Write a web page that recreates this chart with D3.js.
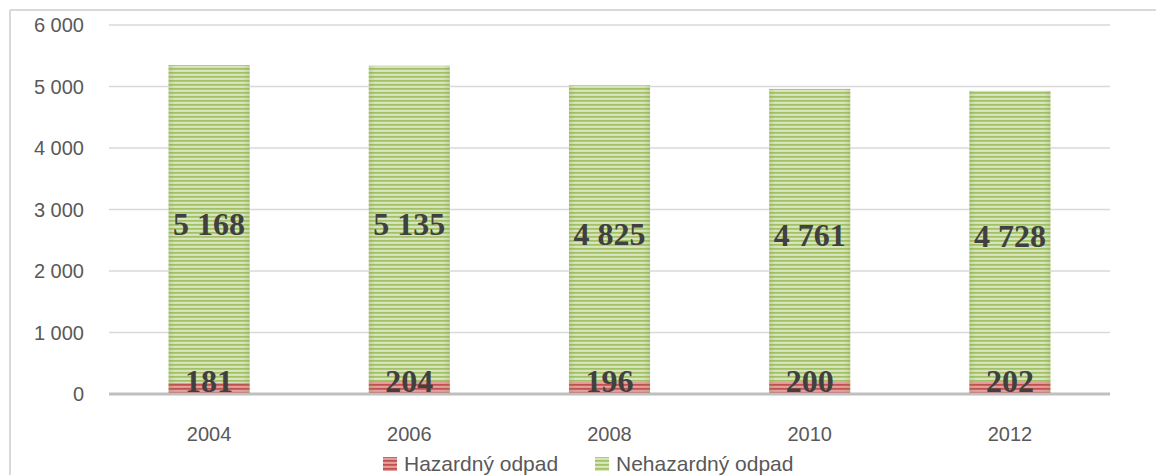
<!DOCTYPE html>
<html>
<head>
<meta charset="utf-8">
<script src="https://cdn.jsdelivr.net/npm/d3@7"></script>
<style>
  body { margin: 0; background: #fff; }
  svg { display: block; font-family: "Liberation Sans", Arial, sans-serif; }
</style>
</head>
<body>
<svg id="chart" width="1156" height="475"></svg>
<script>
var years = ["2004", "2006", "2008", "2010", "2012"];
var hazard = [181, 204, 196, 200, 202];
var nonHazard = [5168, 5135, 4825, 4761, 4728];
var yTicks = [0, 1000, 2000, 3000, 4000, 5000, 6000];
var seriesNames = ["Hazardný odpad", "Nehazardný odpad"];

var width = 1156, height = 475;
var plotLeft = 109, plotRight = 1110, plotTop = 25, plotBottom = 394;

var svg = d3.select("#chart");
var fmt = d3.formatLocale({decimal: ",", thousands: " ", grouping: [3], currency: ["", ""]}).format(",d");

// striped fills
var defs = svg.append("defs");
var makeStripes = function(id, dark, mid, light){
	var p = defs.append("pattern")
		.attr("id", id)
		.attr("patternUnits", "userSpaceOnUse")
		.attr("width", 8).attr("height", 4);
	p.append("rect").attr("width", 8).attr("height", 4).attr("fill", mid);
	p.append("rect").attr("y", 0).attr("width", 8).attr("height", 1.5).attr("fill", dark);
	p.append("rect").attr("y", 2.3).attr("width", 8).attr("height", 1.3).attr("fill", light);
};
makeStripes("greenStripe", "#a2c064", "#bfd597", "#e3edd2");
makeStripes("redStripe", "#c0504d", "#d27774", "#eab2b0");

var edge = defs.append("linearGradient").attr("id", "edge");
edge.append("stop").attr("offset", "0").attr("stop-color", "#7a9a3c").attr("stop-opacity", 0.22);
edge.append("stop").attr("offset", "0.08").attr("stop-color", "#7a9a3c").attr("stop-opacity", 0);
edge.append("stop").attr("offset", "0.92").attr("stop-color", "#7a9a3c").attr("stop-opacity", 0);
edge.append("stop").attr("offset", "1").attr("stop-color", "#7a9a3c").attr("stop-opacity", 0.22);

// outer frame (only top and left visible)
svg.append("line").attr("x1", 10).attr("x2", width).attr("y1", 10).attr("y2", 10)
	.attr("stroke", "#d9d9d9").attr("stroke-width", 2);
svg.append("line").attr("x1", 10).attr("x2", 10).attr("y1", 10).attr("y2", height)
	.attr("stroke", "#d9d9d9").attr("stroke-width", 2);

var x = d3.scaleBand().domain(years).range([plotLeft, plotRight]).padding(0);
var y = d3.scaleLinear().domain([0, 6000]).range([plotBottom, plotTop]);
var barW = x.bandwidth() * 0.405;
var barX = function(i){ return x(years[i]) + (x.bandwidth() - barW) / 2; };

// gridlines
svg.append("g").selectAll("line")
	.data(yTicks.filter(function(d){ return d > 0; }))
	.enter().append("line")
	.attr("x1", plotLeft).attr("x2", plotRight)
	.attr("y1", function(d){ return y(d); }).attr("y2", function(d){ return y(d); })
	.attr("stroke", "#d9d9d9").attr("stroke-width", 1.5);

// y tick labels
svg.append("g").selectAll("text")
	.data(yTicks)
	.enter().append("text")
	.attr("x", 84)
	.attr("y", function(d){ return y(d); })
	.attr("dy", "0.36em")
	.attr("text-anchor", "end")
	.attr("font-size", 20)
	.attr("fill", "#595959")
	.text(function(d){ return fmt(d); });

// bars
var bars = svg.append("g");
years.forEach(function(yr, i){
	var h0 = hazard[i], h1 = hazard[i] + nonHazard[i];
	bars.append("rect")
		.attr("x", barX(i)).attr("width", barW)
		.attr("y", y(h1)).attr("height", y(h0) - y(h1))
		.attr("fill", "url(#greenStripe)");
	bars.append("rect")
		.attr("x", barX(i)).attr("width", barW)
		.attr("y", y(h0)).attr("height", y(0) - y(h0))
		.attr("fill", "url(#redStripe)");
	bars.append("rect")
		.attr("x", barX(i)).attr("width", barW)
		.attr("y", y(h1)).attr("height", y(0) - y(h1))
		.attr("fill", "url(#edge)");
});

// axis line
svg.append("line").attr("x1", plotLeft).attr("x2", plotRight)
	.attr("y1", y(0)).attr("y2", y(0))
	.attr("stroke", "#bfbfbf").attr("stroke-width", 3);

// value labels
var labels = svg.append("g")
	.style("font-family", "'Liberation Serif', 'Times New Roman', serif")
	.attr("font-weight", "bold")
	.attr("font-size", 32)
	.attr("fill", "#404040")
	.attr("text-anchor", "middle");
years.forEach(function(yr, i){
	var cx = x(yr) + x.bandwidth() / 2;
	var mid = y(hazard[i] + nonHazard[i] / 2);
	labels.append("text")
		.attr("x", cx).attr("y", mid).attr("dy", "0.35em")
		.text(fmt(nonHazard[i]));
	labels.append("text")
		.attr("x", cx).attr("y", y(0) - 2)
		.text(fmt(hazard[i]));
});

// x labels
svg.append("g").selectAll("text")
	.data(years)
	.enter().append("text")
	.attr("x", function(d){ return x(d) + x.bandwidth() / 2; })
	.attr("y", 441)
	.attr("text-anchor", "middle")
	.attr("font-size", 20)
	.attr("fill", "#595959")
	.text(function(d){ return d; });

// legend
var legend = svg.append("g");
var legendX = [383, 595];
var legendFill = ["url(#redStripe)", "url(#greenStripe)"];
seriesNames.forEach(function(name, i){
	legend.append("rect")
		.attr("x", legendX[i]).attr("y", 457)
		.attr("width", 14).attr("height", 14)
		.attr("fill", legendFill[i]);
	legend.append("text")
		.attr("x", legendX[i] + 21).attr("y", 471)
		.attr("font-size", 21)
		.attr("fill", "#595959")
		.text(name);
});
</script>
</body>
</html>
